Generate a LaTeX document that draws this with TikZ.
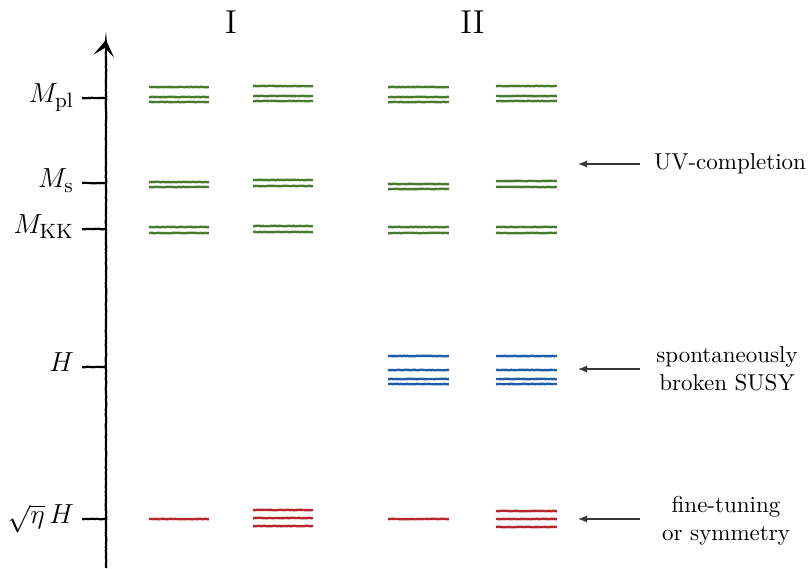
\documentclass[tikz,border=0pt]{standalone}
\usetikzlibrary{arrows.meta,decorations.pathmorphing}
\definecolor{lvgreen}{RGB}{72,122,48}
\definecolor{lvblue}{RGB}{32,92,170}
\definecolor{lvred}{RGB}{182,38,42}
\definecolor{notegray}{RGB}{55,55,55}
\tikzset{
  rough/.style={decorate,decoration={random steps,segment length=0.7pt,amplitude=0.12pt}},
  levelbar/.style={rough,line width=1.05pt},
  axisline/.style={rough,line width=0.95pt,black},
  ticks/.style={rough,line width=0.95pt,black},
  scalelabel/.style={anchor=mid east,font=\fontsize{13.2}{16}\selectfont},
  header/.style={font=\Large},
  note/.style={align=center,font=\normalsize,inner sep=0pt},
  pointer/.style={notegray,line width=0.6pt,-{Latex[length=4pt,width=3.2pt]}}
}
% draw a level bar: colour, left x, right x, height
\newcommand\levelbar[4]{\draw[levelbar,#1] (#2,#4) -- (#3,#4);}
\begin{document}
\begin{tikzpicture}[x=0.435pt,y=-0.435pt]
\useasboundingbox (0,0) rectangle (810,568);

% energy axis
\coordinate (axbot) at (106,568);
\coordinate (axtop) at (106,40);
\draw[axisline,-{Stealth[length=7pt,width=9pt,inset=3.5pt]}] (axbot) -- (axtop);

% scale ticks and labels
\foreach \nm/\yy/\txt in {pl/98/{$M_{\mathrm{pl}}$}, s/183/{$M_{\mathrm{s}}$},
    kk/229/{$M_{\mathrm{KK}}$}, h/367/{$H$}, eh/519/{$\sqrt{\eta}\,H$}}{
  \coordinate (t\nm) at (82,\yy);
  \coordinate (a\nm) at (106,\yy);
  \draw[ticks] (t\nm) -- (a\nm);
  \node[scalelabel] (l\nm) at (t\nm) {\txt};
}

% column headers
\node[header] (hI) at (231,22) {I};
\node[header] (hII) at (472.5,22) {II};

% --- scenario I ---
\foreach \yy in {87,97,102,182,187,227,233}{\levelbar{lvgreen}{149}{209}{\yy}}
\foreach \yy in {86,96,101,180,186,226,232}{\levelbar{lvgreen}{253}{313}{\yy}}
\levelbar{lvred}{149}{209}{519}
\foreach \yy in {510,518,526}{\levelbar{lvred}{253}{313}{\yy}}

% --- scenario II ---
\foreach \yy in {87,97,102,184,189,227,233}{\levelbar{lvgreen}{388}{449}{\yy}}
\foreach \yy in {86,96,101,181,187,227,233}{\levelbar{lvgreen}{496}{557}{\yy}}
\foreach \yy in {356,370,379,384}{\levelbar{lvblue}{388}{449}{\yy}}
\foreach \yy in {356,370,379,384}{\levelbar{lvblue}{496}{557}{\yy}}
\levelbar{lvred}{388}{449}{519}
\foreach \yy in {511,519,527}{\levelbar{lvred}{496}{557}{\yy}}

% annotations on the right
\node[note] (nuv) at (730,164) {UV-completion};
\node[note] (nsusy) at (727,369) {spontaneously\\broken SUSY};
\node[note] (nft) at (726,521) {fine-tuning\\or symmetry};
\coordinate (puv) at (578,164);
\coordinate (psusy) at (578,369);
\coordinate (pft) at (578,519);
\draw[pointer] (640,164) coordinate (quv) -- (puv);
\draw[pointer] (640,369) coordinate (qsusy) -- (psusy);
\draw[pointer] (640,519) coordinate (qft) -- (pft);
\end{tikzpicture}
\end{document}
